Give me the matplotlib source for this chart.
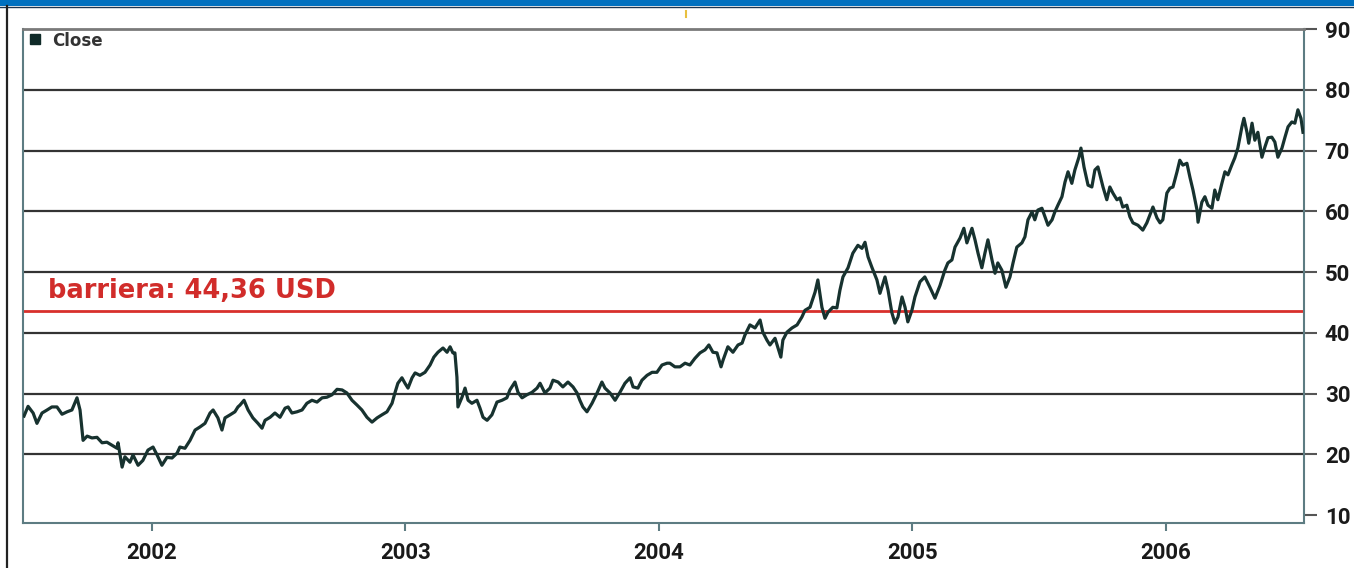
import numpy as np
import matplotlib.pyplot as plt
from matplotlib.patches import Rectangle
from matplotlib.lines import Line2D

# closing prices (decimal year, USD)
dates = [
    2001.495, 2001.511, 2001.531, 2001.546, 2001.566, 2001.586, 2001.605, 2001.625,
    2001.645, 2001.665, 2001.684, 2001.704, 2001.716, 2001.728, 2001.744, 2001.763,
    2001.783, 2001.803, 2001.822, 2001.842, 2001.862, 2001.866, 2001.882, 2001.893,
    2001.913, 2001.925, 2001.945, 2001.964, 2001.984, 2002.004, 2002.020, 2002.039,
    2002.059, 2002.079, 2002.099, 2002.110, 2002.130, 2002.150, 2002.170, 2002.189,
    2002.209, 2002.229, 2002.241, 2002.260, 2002.276, 2002.288, 2002.308, 2002.327,
    2002.339, 2002.347, 2002.363, 2002.379, 2002.398, 2002.418, 2002.434, 2002.446,
    2002.466, 2002.485, 2002.505, 2002.525, 2002.537, 2002.552, 2002.572, 2002.592,
    2002.611, 2002.631, 2002.651, 2002.671, 2002.690, 2002.710, 2002.730, 2002.750,
    2002.769, 2002.789, 2002.809, 2002.828, 2002.848, 2002.868, 2002.888, 2002.907,
    2002.927, 2002.947, 2002.959, 2002.970, 2002.986, 2002.998, 2003.010, 2003.026,
    2003.038, 2003.057, 2003.077, 2003.097, 2003.112, 2003.128, 2003.148, 2003.164,
    2003.176, 2003.187, 2003.195, 2003.203, 2003.207, 2003.223, 2003.235, 2003.247,
    2003.262, 2003.282, 2003.294, 2003.306, 2003.322, 2003.341, 2003.361, 2003.381,
    2003.400, 2003.412, 2003.432, 2003.444, 2003.460, 2003.479, 2003.499, 2003.519,
    2003.531, 2003.550, 2003.570, 2003.582, 2003.602, 2003.621, 2003.641, 2003.661,
    2003.677, 2003.688, 2003.700, 2003.716, 2003.736, 2003.756, 2003.775, 2003.787,
    2003.807, 2003.827, 2003.846, 2003.866, 2003.886, 2003.898, 2003.917, 2003.933,
    2003.953, 2003.973, 2003.992, 2004.012, 2004.032, 2004.043, 2004.063, 2004.083,
    2004.103, 2004.122, 2004.142, 2004.162, 2004.182, 2004.197, 2004.213, 2004.229,
    2004.245, 2004.253, 2004.272, 2004.292, 2004.312, 2004.328, 2004.339, 2004.359,
    2004.379, 2004.399, 2004.410, 2004.426, 2004.438, 2004.458, 2004.470, 2004.481,
    2004.489, 2004.505, 2004.525, 2004.545, 2004.564, 2004.576, 2004.596, 2004.616,
    2004.627, 2004.643, 2004.655, 2004.667, 2004.686, 2004.702, 2004.714, 2004.726,
    2004.746, 2004.765, 2004.785, 2004.801, 2004.813, 2004.825, 2004.840, 2004.860,
    2004.872, 2004.892, 2004.904, 2004.919, 2004.931, 2004.943, 2004.959, 2004.971,
    2004.982, 2004.998, 2005.010, 2005.030, 2005.049, 2005.069, 2005.089, 2005.109,
    2005.128, 2005.140, 2005.156, 2005.168, 2005.188, 2005.203, 2005.215, 2005.235,
    2005.247, 2005.259, 2005.274, 2005.286, 2005.298, 2005.314, 2005.326, 2005.337,
    2005.353, 2005.369, 2005.385, 2005.397, 2005.412, 2005.432, 2005.444, 2005.456,
    2005.472, 2005.483, 2005.495, 2005.511, 2005.523, 2005.535, 2005.551, 2005.562,
    2005.574, 2005.590, 2005.602, 2005.614, 2005.629, 2005.641, 2005.657, 2005.665,
    2005.677, 2005.693, 2005.708, 2005.720, 2005.732, 2005.740, 2005.752, 2005.767,
    2005.779, 2005.791, 2005.807, 2005.819, 2005.830, 2005.846, 2005.858, 2005.870,
    2005.890, 2005.909, 2005.925, 2005.937, 2005.949, 2005.965, 2005.977, 2005.988,
    2006.004, 2006.016, 2006.028, 2006.044, 2006.055, 2006.067, 2006.083, 2006.095,
    2006.107, 2006.123, 2006.127, 2006.142, 2006.154, 2006.166, 2006.182, 2006.193,
    2006.205, 2006.221, 2006.233, 2006.245, 2006.260, 2006.272, 2006.284, 2006.300,
    2006.308, 2006.320, 2006.327, 2006.340, 2006.351, 2006.363, 2006.379, 2006.391,
    2006.403, 2006.418, 2006.430, 2006.442, 2006.458, 2006.470, 2006.482, 2006.497,
    2006.509, 2006.521, 2006.533, 2006.541,
]
close = [
    26.3, 27.9, 26.8, 25.1, 26.8, 27.3, 27.8, 27.8,
    26.6, 27.0, 27.3, 29.3, 27.3, 22.3, 23.0, 22.7,
    22.8, 21.9, 22.0, 21.5, 21.0, 21.9, 17.9, 19.6,
    18.7, 19.9, 18.2, 19.0, 20.7, 21.2, 19.9, 18.2,
    19.5, 19.4, 20.2, 21.2, 21.0, 22.3, 24.0, 24.5,
    25.1, 26.8, 27.3, 26.0, 24.0, 26.0, 26.5, 27.0,
    27.8, 28.1, 28.9, 27.3, 26.0, 25.1, 24.3, 25.6,
    26.1, 26.8, 26.1, 27.6, 27.8, 26.8, 27.0, 27.3,
    28.4, 28.9, 28.6, 29.3, 29.4, 29.8, 30.7, 30.6,
    30.1, 28.9, 28.1, 27.3, 26.1, 25.3, 26.0, 26.5,
    27.0, 28.4, 30.2, 31.7, 32.6, 31.7, 30.9, 32.6,
    33.4, 33.0, 33.5, 34.7, 36.0, 36.8, 37.5, 36.8,
    37.7, 36.7, 36.7, 32.7, 27.8, 29.4, 30.9, 28.9,
    28.4, 28.9, 27.6, 26.1, 25.6, 26.5, 28.6, 28.9,
    29.3, 30.6, 31.9, 30.2, 29.3, 29.8, 30.2, 30.9,
    31.7, 30.1, 30.9, 32.2, 31.9, 31.1, 31.9, 31.1,
    30.1, 28.9, 27.8, 27.0, 28.4, 30.1, 31.9, 30.9,
    30.1, 28.9, 30.2, 31.7, 32.6, 31.1, 30.9, 32.2,
    33.0, 33.5, 33.5, 34.7, 35.0, 35.0, 34.4, 34.4,
    35.0, 34.7, 35.8, 36.7, 37.2, 38.0, 36.8, 36.7,
    34.4, 35.5, 37.7, 36.8, 38.0, 38.3, 39.6, 41.3,
    40.8, 42.1, 40.1, 38.8, 38.0, 39.1, 37.5, 36.0,
    38.8, 40.1, 40.8, 41.3, 42.6, 43.7, 44.2, 46.7,
    48.7, 44.2, 42.4, 43.4, 44.2, 44.1, 47.0, 49.2,
    50.7, 53.1, 54.4, 53.9, 54.9, 52.5, 50.8, 48.7,
    46.5, 49.2, 47.0, 43.3, 41.6, 42.6, 45.9, 44.2,
    41.8, 43.7, 45.9, 48.4, 49.2, 47.5, 45.7, 47.8,
    50.3, 51.5, 52.0, 54.1, 55.6, 57.2, 54.8, 57.2,
    55.3, 53.1, 50.7, 53.1, 55.3, 52.0, 49.8, 51.5,
    50.3, 47.5, 49.2, 51.5, 54.1, 54.8, 55.8, 58.6,
    59.9, 58.6, 60.2, 60.5, 59.1, 57.7, 58.6, 59.9,
    61.0, 62.4, 64.8, 66.5, 64.6, 66.8, 68.9, 70.4,
    67.3, 64.3, 64.0, 66.8, 67.3, 66.0, 64.0, 61.9,
    64.0, 63.0, 61.9, 62.2, 60.7, 61.0, 59.1, 58.1,
    57.7, 56.9, 58.1, 59.4, 60.7, 58.9, 58.1, 58.6,
    63.0, 63.8, 64.0, 66.5, 68.4, 67.6, 67.9, 65.6,
    63.5, 60.2, 58.2, 61.5, 62.4, 61.0, 60.5, 63.5,
    61.9, 64.6, 66.5, 66.0, 67.6, 68.8, 70.4, 73.9,
    75.3, 73.0, 71.2, 74.5, 71.7, 73.0, 68.9, 70.6,
    72.1, 72.2, 71.4, 68.9, 70.4, 72.2, 73.9, 74.7,
    74.5, 76.7, 75.3, 73.0,
]

barrier_level = 43.6
barrier_label = 'barriera: 44,36 USD'
year_ticks = [2002, 2003, 2004, 2005, 2006]
price_ticks = [10, 20, 30, 40, 50, 60, 70, 80, 90]
grid_levels = [20, 30, 40, 50, 60, 70, 80]

W, H = 1354, 568
fig = plt.figure(figsize=(W / 100, H / 100), dpi=100, facecolor='white')

# blue header strip and left frame line
fig.add_artist(Rectangle((0, 1 - 6 / H), 1, 6 / H, transform=fig.transFigure,
                         facecolor='#0070bf', edgecolor='none'))
fig.add_artist(Line2D([0, 1], [1 - 6.5 / H] * 2, transform=fig.transFigure,
                      color='#1c3550', lw=1))
fig.add_artist(Line2D([7 / W] * 2, [0, 1 - 6 / H], transform=fig.transFigure,
                      color='#222222', lw=1.6))
fig.add_artist(Line2D([686 / W] * 2, [1 - 11 / H, 1 - 17 / H],
                      transform=fig.transFigure, color='#e8c040', lw=1.5))

ax = fig.add_axes([23 / W, 45 / H, 1281 / W, 494 / H])
ax.set_xlim(2001.491, 2006.545)
ax.set_ylim(8.7, 90)

for lvl in grid_levels:
    ax.axhline(lvl, color='#333333', lw=1.6, zorder=1)

ax.axhline(barrier_level, color='#d8302c', lw=2, zorder=2)
ax.text(2001.589, barrier_level + 2.2, barrier_label, color='#d12c2a',
        fontsize=18.5, fontweight='bold', family='DejaVu Sans',
        va='baseline', zorder=4)

ax.plot(dates, close, color='#17322f', lw=2.3, zorder=3)

# legend
ax.plot([2001.537], [88.3], marker='s', ms=7.5, color='#0f2a28', clip_on=False)
ax.text(2001.605, 88.1, 'Close', fontsize=12, fontweight='bold',
        color='#333333', va='center')

spine_c = '#5d7c82'
for s in ['left', 'right', 'bottom']:
    ax.spines[s].set_color(spine_c)
    ax.spines[s].set_linewidth(1.5)
ax.spines['top'].set_color('#7a7a7a')
ax.spines['top'].set_linewidth(2)

ax.yaxis.tick_right()
ax.set_yticks(price_ticks)
ax.set_yticklabels([str(v) for v in price_ticks])
ax.set_xticks(year_ticks)
ax.set_xticklabels([str(y) for y in year_ticks])
ax.tick_params(axis='y', length=9, width=1.5, color='#555555', pad=6,
               labelsize=16, labelcolor='#1a1a1a')
ax.tick_params(axis='x', length=6, width=1.5, color=spine_c, pad=8,
               labelsize=16, labelcolor='#1a1a1a')
for lab in ax.get_xticklabels() + ax.get_yticklabels():
    lab.set_family('Roboto')
    lab.set_fontweight('bold')

fig.savefig('out.png', dpi=100, facecolor='white')
